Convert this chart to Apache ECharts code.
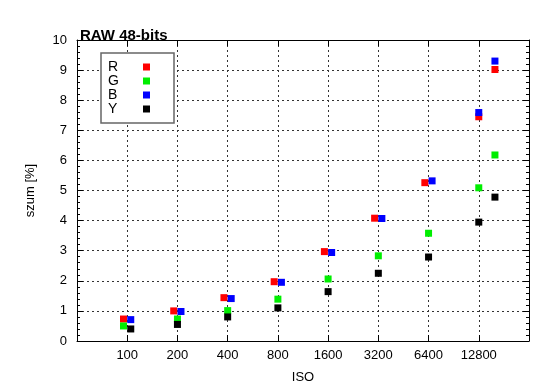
<!DOCTYPE html>
<html>
<head>
<meta charset="utf-8">
<script src="https://cdn.jsdelivr.net/npm/echarts@6/dist/echarts.min.js"></script>
<style>html,body{margin:0;padding:0;background:#fff}#c{width:550px;height:389px}</style>
</head>
<body>
<div id="c"></div>
<script>
// Data (ISO value of each point, noise in %)
var isoTicks = [100, 200, 400, 800, 1600, 3200, 6400, 12800];
var isoR = [95, 190, 380, 760, 1520, 3040, 6080, 12800, 16000];
var isoG = [95, 200, 400, 800, 1600, 3200, 6400, 12800, 16000];
var isoB = [105, 210, 420, 840, 1680, 3360, 6720, 12800, 16000];
var isoY = [105, 200, 400, 800, 1600, 3200, 6400, 12800, 16000];
var valR = [0.73, 1.00, 1.44, 1.97, 2.97, 4.08, 5.26, 7.45, 9.02];
var valG = [0.50, 0.73, 1.01, 1.39, 2.06, 2.83, 3.58, 5.09, 6.18];
var valB = [0.71, 0.98, 1.41, 1.95, 2.94, 4.07, 5.32, 7.59, 9.30];
var valY = [0.40, 0.55, 0.80, 1.10, 1.64, 2.25, 2.79, 3.95, 4.78];
var seriesNames = ['R', 'G', 'B', 'Y'];
var seriesColors = ['#ff0000', '#00ee00', '#0000ff', '#000000'];

function toPts(iso, val) {
  return iso.map(function (v, i) { return [Math.log2(v / 100), val[i]]; });
}
var isoSets = [isoR, isoG, isoB, isoY];
var valSets = [valR, valG, valB, valY];

var font = 'Liberation Sans, Arial, Helvetica, sans-serif';
var gridLine = { show: true, lineStyle: { color: '#333', type: [2, 3], width: 1 } };

var chart = echarts.init(document.getElementById('c'), null, { renderer: 'canvas' });
chart.setOption({
  animation: false,
  backgroundColor: '#fff',
  title: {
    text: 'RAW 48-bits', left: 75, top: 23,
    textStyle: { fontFamily: font, fontSize: 15, fontWeight: 'bold', color: '#000' }
  },
  grid: { left: 77, right: 21, top: 40, bottom: 45, containLabel: false },
  legend: {
    left: 101, top: 53, orient: 'vertical', align: 'right',
    itemWidth: 7, itemHeight: 7, itemGap: 0,
    padding: [7, 24, 7, 7],
    backgroundColor: '#fff', borderColor: '#666', borderWidth: 1.5,
    formatter: function (n) { return '{n|' + n + '}'; },
    textStyle: {
      fontFamily: font, fontSize: 14, color: '#000', lineHeight: 14,
      rich: { n: { fontFamily: font, fontSize: 14, color: '#000', width: 30, align: 'left', lineHeight: 14 } }
    },
    data: seriesNames.map(function (n) { return { name: n, icon: 'rect' }; })
  },
  xAxis: [{
    type: 'value', min: -1, max: 8, interval: 1,
    name: 'ISO', nameLocation: 'middle', nameGap: 30,
    nameTextStyle: { fontFamily: font, fontSize: 13, color: '#000' },
    axisLine: { show: true, onZero: false, lineStyle: { color: '#000', width: 1 } },
    axisTick: { show: true, inside: true, length: 6, lineStyle: { color: '#000' } },
    axisLabel: {
      fontFamily: font, fontSize: 13, color: '#000', margin: 8,
      formatter: function (v) {
        var iso = Math.round(100 * Math.pow(2, v));
        return isoTicks.indexOf(iso) >= 0 ? String(iso) : '';
      }
    },
    splitLine: gridLine
  }, {
    type: 'value', min: -1, max: 8, interval: 1, position: 'top',
    axisLine: { show: true, onZero: false, lineStyle: { color: '#000', width: 1 } },
    axisTick: { show: true, inside: true, length: 6, lineStyle: { color: '#000' } },
    axisLabel: { show: false }, splitLine: { show: false }
  }],
  yAxis: [{
    type: 'value', min: 0, max: 10, interval: 1,
    name: 'szum [%]', nameLocation: 'middle', nameGap: 40, nameRotate: 90,
    nameTextStyle: { fontFamily: font, fontSize: 13, color: '#000' },
    axisLine: { show: true, onZero: false, lineStyle: { color: '#000', width: 1 } },
    axisTick: { show: true, inside: true, length: 6, lineStyle: { color: '#000' } },
    minorTick: { show: true, splitNumber: 5, length: 3, lineStyle: { color: '#000' } },
    axisLabel: { fontFamily: font, fontSize: 13, color: '#000', margin: 10 },
    splitLine: gridLine
  }, {
    type: 'value', min: 0, max: 10, interval: 1, position: 'right',
    axisLine: { show: true, onZero: false, lineStyle: { color: '#000', width: 1 } },
    axisTick: { show: true, inside: true, length: 6, lineStyle: { color: '#000' } },
    minorTick: { show: true, splitNumber: 5, length: 3, lineStyle: { color: '#000' } },
    axisLabel: { show: false }, splitLine: { show: false }
  }],
  series: seriesNames.map(function (n, k) {
    return {
      name: n, type: 'scatter', symbol: 'rect', symbolSize: 7,
      itemStyle: { color: seriesColors[k], opacity: 1 },
      data: toPts(isoSets[k], valSets[k]), z: 3
    };
  })
});
</script>
</body>
</html>
